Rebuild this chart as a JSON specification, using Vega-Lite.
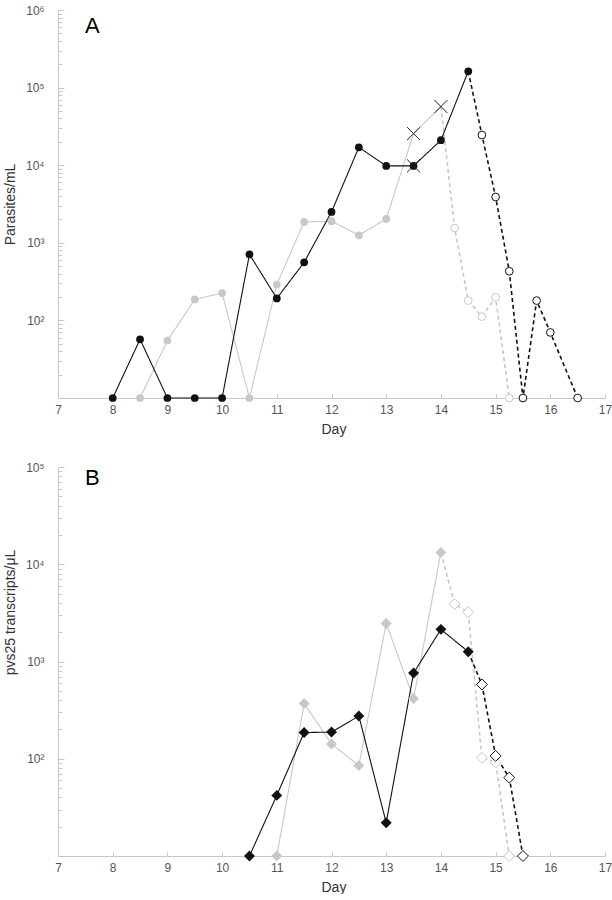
{
  "$schema": "https://vega.github.io/schema/vega-lite/v6.json",
  "autosize": {"type": "pad"},
  "padding": {"left": 3, "top": 4, "right": 0, "bottom": 0},
  "background": "white",
  "spacing": 69,
  "bounds": "flush",
  "config": {
    "view": {"stroke": null},
    "font": "Liberation Sans",
    "axis": {
      "domainColor": "#c8c8c8",
      "tickColor": "#c8c8c8",
      "labelColor": "#555555",
      "labelFont": "Liberation Sans",
      "labelFontSize": 12,
      "titleFont": "Liberation Sans",
      "titleFontSize": 14,
      "titleFontWeight": "normal",
      "titleColor": "#333333",
      "grid": false,
      "labelOverlap": false,
      "labelBound": false,
      "labelFlush": false
    }
  },
  "datasets": {
    "pts": [
      {"panel": "A", "series": "gray", "seg": "solid", "marker": "filled", "day": 8.5, "value": 10},
      {"panel": "A", "series": "gray", "seg": "solid", "marker": "filled", "day": 9, "value": 55},
      {"panel": "A", "series": "gray", "seg": "solid", "marker": "filled", "day": 9.5, "value": 186},
      {"panel": "A", "series": "gray", "seg": "solid", "marker": "filled", "day": 10, "value": 225},
      {"panel": "A", "series": "gray", "seg": "solid", "marker": "filled", "day": 10.5, "value": 10},
      {"panel": "A", "series": "gray", "seg": "solid", "marker": "filled", "day": 11, "value": 290},
      {"panel": "A", "series": "gray", "seg": "solid", "marker": "filled", "day": 11.5, "value": 1860},
      {"panel": "A", "series": "gray", "seg": "solid", "marker": "filled", "day": 12, "value": 1900},
      {"panel": "A", "series": "gray", "seg": "solid", "marker": "filled", "day": 12.5, "value": 1250},
      {"panel": "A", "series": "gray", "seg": "solid", "marker": "filled", "day": 13, "value": 2030},
      {"panel": "A", "series": "gray", "seg": "solid", "marker": "x", "day": 13.5, "value": 25500},
      {"panel": "A", "series": "gray", "seg": "solid", "marker": "x", "day": 14, "value": 57000},
      {"panel": "A", "series": "gray", "seg": "dashed", "marker": "none", "day": 14, "value": 57000},
      {"panel": "A", "series": "gray", "seg": "dashed", "marker": "open", "day": 14.25, "value": 1550},
      {"panel": "A", "series": "gray", "seg": "dashed", "marker": "open", "day": 14.5, "value": 180},
      {"panel": "A", "series": "gray", "seg": "dashed", "marker": "open", "day": 14.75, "value": 112},
      {"panel": "A", "series": "gray", "seg": "dashed", "marker": "open", "day": 15, "value": 198},
      {"panel": "A", "series": "gray", "seg": "dashed", "marker": "open", "day": 15.25, "value": 10},
      {"panel": "A", "series": "black", "seg": "solid", "marker": "filled", "day": 8, "value": 10},
      {"panel": "A", "series": "black", "seg": "solid", "marker": "filled", "day": 8.5, "value": 57},
      {"panel": "A", "series": "black", "seg": "solid", "marker": "filled", "day": 9, "value": 10},
      {"panel": "A", "series": "black", "seg": "solid", "marker": "filled", "day": 9.5, "value": 10},
      {"panel": "A", "series": "black", "seg": "solid", "marker": "filled", "day": 10, "value": 10},
      {"panel": "A", "series": "black", "seg": "solid", "marker": "filled", "day": 10.5, "value": 710},
      {"panel": "A", "series": "black", "seg": "solid", "marker": "filled", "day": 11, "value": 192},
      {"panel": "A", "series": "black", "seg": "solid", "marker": "filled", "day": 11.5, "value": 560},
      {"panel": "A", "series": "black", "seg": "solid", "marker": "filled", "day": 12, "value": 2500},
      {"panel": "A", "series": "black", "seg": "solid", "marker": "filled", "day": 12.5, "value": 17000},
      {"panel": "A", "series": "black", "seg": "solid", "marker": "filled", "day": 13, "value": 9800},
      {"panel": "A", "series": "black", "seg": "solid", "marker": "filledx", "day": 13.5, "value": 9800},
      {"panel": "A", "series": "black", "seg": "solid", "marker": "filled", "day": 14, "value": 21000},
      {"panel": "A", "series": "black", "seg": "solid", "marker": "filled", "day": 14.5, "value": 162000},
      {"panel": "A", "series": "black", "seg": "dashed", "marker": "none", "day": 14.5, "value": 162000},
      {"panel": "A", "series": "black", "seg": "dashed", "marker": "open", "day": 14.75, "value": 24500},
      {"panel": "A", "series": "black", "seg": "dashed", "marker": "open", "day": 15, "value": 3900},
      {"panel": "A", "series": "black", "seg": "dashed", "marker": "open", "day": 15.25, "value": 430},
      {"panel": "A", "series": "black", "seg": "dashed", "marker": "open", "day": 15.5, "value": 10},
      {"panel": "A", "series": "black", "seg": "dashed", "marker": "open", "day": 15.75, "value": 180},
      {"panel": "A", "series": "black", "seg": "dashed", "marker": "open", "day": 16, "value": 70},
      {"panel": "A", "series": "black", "seg": "dashed", "marker": "open", "day": 16.5, "value": 10},
      {"panel": "B", "series": "gray", "seg": "solid", "marker": "filled", "day": 11, "value": 10},
      {"panel": "B", "series": "gray", "seg": "solid", "marker": "filled", "day": 11.5, "value": 370},
      {"panel": "B", "series": "gray", "seg": "solid", "marker": "filled", "day": 12, "value": 142},
      {"panel": "B", "series": "gray", "seg": "solid", "marker": "filled", "day": 12.5, "value": 85},
      {"panel": "B", "series": "gray", "seg": "solid", "marker": "filled", "day": 13, "value": 2460},
      {"panel": "B", "series": "gray", "seg": "solid", "marker": "filled", "day": 13.5, "value": 415},
      {"panel": "B", "series": "gray", "seg": "solid", "marker": "filled", "day": 14, "value": 13200},
      {"panel": "B", "series": "gray", "seg": "dashed", "marker": "none", "day": 14, "value": 13200},
      {"panel": "B", "series": "gray", "seg": "dashed", "marker": "open", "day": 14.25, "value": 3900},
      {"panel": "B", "series": "gray", "seg": "dashed", "marker": "open", "day": 14.5, "value": 3200},
      {"panel": "B", "series": "gray", "seg": "dashed", "marker": "open", "day": 14.75, "value": 102},
      {"panel": "B", "series": "gray", "seg": "dashed", "marker": "open", "day": 15, "value": 92},
      {"panel": "B", "series": "gray", "seg": "dashed", "marker": "open", "day": 15.25, "value": 10},
      {"panel": "B", "series": "black", "seg": "solid", "marker": "filled", "day": 10.5, "value": 10},
      {"panel": "B", "series": "black", "seg": "solid", "marker": "filled", "day": 11, "value": 42},
      {"panel": "B", "series": "black", "seg": "solid", "marker": "filled", "day": 11.5, "value": 186},
      {"panel": "B", "series": "black", "seg": "solid", "marker": "filled", "day": 12, "value": 188},
      {"panel": "B", "series": "black", "seg": "solid", "marker": "filled", "day": 12.5, "value": 275},
      {"panel": "B", "series": "black", "seg": "solid", "marker": "filled", "day": 13, "value": 22},
      {"panel": "B", "series": "black", "seg": "solid", "marker": "filled", "day": 13.5, "value": 760},
      {"panel": "B", "series": "black", "seg": "solid", "marker": "filled", "day": 14, "value": 2140},
      {"panel": "B", "series": "black", "seg": "solid", "marker": "filled", "day": 14.5, "value": 1260},
      {"panel": "B", "series": "black", "seg": "dashed", "marker": "none", "day": 14.5, "value": 1260},
      {"panel": "B", "series": "black", "seg": "dashed", "marker": "open", "day": 14.75, "value": 580},
      {"panel": "B", "series": "black", "seg": "dashed", "marker": "open", "day": 15, "value": 107},
      {"panel": "B", "series": "black", "seg": "dashed", "marker": "open", "day": 15.25, "value": 64},
      {"panel": "B", "series": "black", "seg": "dashed", "marker": "open", "day": 15.5, "value": 10}
    ]
  },
  "vconcat": [
    {
      "width": 547,
      "height": 388,
      "layer": [
        {
          "data": {"name": "pts"},
          "transform": [{"filter": "datum.panel === 'A'"}],
          "mark": {"type": "line", "strokeCap": "butt"},
          "encoding": {
            "x": {
              "field": "day", "type": "quantitative",
              "scale": {"domain": [7, 17], "nice": false, "zero": false},
              "axis": {
                "title": "Day",
                "values": [7,7.25,7.5,7.75,8,8.25,8.5,8.75,9,9.25,9.5,9.75,10,10.25,10.5,10.75,11,11.25,11.5,11.75,12,12.25,12.5,12.75,13,13.25,13.5,13.75,14,14.25,14.5,14.75,15,15.25,15.5,15.75,16,16.25,16.5,16.75,17],
                "labelExpr": "datum.value % 1 === 0 ? format(datum.value, 'd') : ''",
                "tickSize": -4,
                "labelPadding": 10,
                "titlePadding": 7,
                "titleAnchor": "start",
                "titleX": 263
              }
            },
            "y": {
              "field": "value", "type": "quantitative",
              "scale": {"type": "log", "domain": [10, 1000000], "nice": false},
              "axis": {
                "title": "Parasites/mL",
                "values": [10,20,30,40,50,60,70,80,90,100,200,300,400,500,600,700,800,900,1000,2000,3000,4000,5000,6000,7000,8000,9000,10000,20000,30000,40000,50000,60000,70000,80000,90000,100000,200000,300000,400000,500000,600000,700000,800000,900000,1000000],
                "labelExpr": "abs(log(datum.value)/LN10 - round(log(datum.value)/LN10)) < 0.001 && datum.value > 11 ? '10' + ['⁰','¹','²','³','⁴','⁵','⁶'][round(log(datum.value)/LN10)] : ''",
                "tickSize": {"condition": {"test": "abs(log(datum.value)/LN10 - round(log(datum.value)/LN10)) < 0.001", "value": -6}, "value": -4},
                "labelPadding": 20,
                "minExtent": 34,
                "maxExtent": 34,
                "titlePadding": 7
              }
            },
            "color": {"field": "series", "type": "nominal", "scale": {"domain": ["gray", "black"], "range": ["#c8c8c8", "#111111"]}, "legend": null},
            "strokeDash": {"field": "seg", "type": "nominal", "scale": {"domain": ["solid", "dashed"], "range": [[1, 0], [4, 3]]}, "legend": null},
            "strokeWidth": {"field": "seg", "type": "nominal", "scale": {"domain": ["solid", "dashed"], "range": [1.1, 1.6]}, "legend": null}
          }
        },
        {
          "data": {"name": "pts"},
          "transform": [{"filter": "datum.panel === 'A'"}, {"filter": {"field": "marker", "oneOf": ["filled", "filledx"]}}],
          "mark": {"type": "point", "shape": "circle", "filled": true, "size": 60, "opacity": 1},
          "encoding": {
            "x": {"field": "day", "type": "quantitative"},
            "y": {"field": "value", "type": "quantitative"},
            "color": {"field": "series", "type": "nominal", "legend": null}
          }
        },
        {
          "data": {"name": "pts"},
          "transform": [{"filter": "datum.panel === 'A'"}, {"filter": {"field": "marker", "equal": "open"}}],
          "mark": {"type": "point", "shape": "circle", "filled": false, "fill": "white", "fillOpacity": 1, "strokeWidth": 1, "size": 60, "opacity": 1},
          "encoding": {
            "x": {"field": "day", "type": "quantitative"},
            "y": {"field": "value", "type": "quantitative"},
            "color": {"field": "series", "type": "nominal", "legend": null}
          }
        },
        {
          "data": {"name": "pts"},
          "transform": [{"filter": "datum.panel === 'A'"}, {"filter": {"field": "marker", "oneOf": ["x", "filledx"]}}],
          "mark": {"type": "point", "shape": "M-1,-1L1,1M1,-1L-1,1", "filled": false, "size": 170, "color": "#222222", "strokeWidth": 1, "opacity": 1},
          "encoding": {
            "x": {"field": "day", "type": "quantitative"},
            "y": {"field": "value", "type": "quantitative"}
          }
        },
        {
          "data": {"values": [{"label": "A"}]},
          "mark": {"type": "text", "align": "center", "baseline": "alphabetic", "fontSize": 22, "font": "Liberation Sans", "fill": "#000000"},
          "encoding": {
            "x": {"datum": 7.63},
            "y": {"datum": 500000},
            "text": {"field": "label"}
          }
        }
      ]
    },
    {
      "width": 547,
      "height": 389,
      "layer": [
        {
          "data": {"name": "pts"},
          "transform": [{"filter": "datum.panel === 'B'"}],
          "mark": {"type": "line", "strokeCap": "butt"},
          "encoding": {
            "x": {
              "field": "day", "type": "quantitative",
              "scale": {"domain": [7, 17], "nice": false, "zero": false},
              "axis": {
                "title": "Day",
                "values": [7,7.25,7.5,7.75,8,8.25,8.5,8.75,9,9.25,9.5,9.75,10,10.25,10.5,10.75,11,11.25,11.5,11.75,12,12.25,12.5,12.75,13,13.25,13.5,13.75,14,14.25,14.5,14.75,15,15.25,15.5,15.75,16,16.25,16.5,16.75,17],
                "labelExpr": "datum.value % 1 === 0 ? format(datum.value, 'd') : ''",
                "tickSize": -4,
                "labelPadding": 10,
                "titlePadding": 7,
                "titleAnchor": "start",
                "titleX": 263
              }
            },
            "y": {
              "field": "value", "type": "quantitative",
              "scale": {"type": "log", "domain": [10, 100000], "nice": false},
              "axis": {
                "title": "pvs25 transcripts/μL",
                "titleAnchor": "middle",
                "titleY": 145,
                "values": [10,20,30,40,50,60,70,80,90,100,200,300,400,500,600,700,800,900,1000,2000,3000,4000,5000,6000,7000,8000,9000,10000,20000,30000,40000,50000,60000,70000,80000,90000,100000],
                "labelExpr": "abs(log(datum.value)/LN10 - round(log(datum.value)/LN10)) < 0.001 && datum.value > 11 ? '10' + ['⁰','¹','²','³','⁴','⁵','⁶'][round(log(datum.value)/LN10)] : ''",
                "tickSize": {"condition": {"test": "abs(log(datum.value)/LN10 - round(log(datum.value)/LN10)) < 0.001", "value": -6}, "value": -4},
                "labelPadding": 20,
                "minExtent": 34,
                "maxExtent": 34,
                "titlePadding": 7
              }
            },
            "color": {"field": "series", "type": "nominal", "scale": {"domain": ["gray", "black"], "range": ["#c8c8c8", "#111111"]}, "legend": null},
            "strokeDash": {"field": "seg", "type": "nominal", "scale": {"domain": ["solid", "dashed"], "range": [[1, 0], [4, 3]]}, "legend": null},
            "strokeWidth": {"field": "seg", "type": "nominal", "scale": {"domain": ["solid", "dashed"], "range": [1.1, 1.6]}, "legend": null}
          }
        },
        {
          "data": {"name": "pts"},
          "transform": [{"filter": "datum.panel === 'B'"}, {"filter": {"field": "marker", "equal": "filled"}}],
          "mark": {"type": "point", "shape": "diamond", "filled": true, "size": 120, "opacity": 1},
          "encoding": {
            "x": {"field": "day", "type": "quantitative"},
            "y": {"field": "value", "type": "quantitative"},
            "color": {"field": "series", "type": "nominal", "legend": null}
          }
        },
        {
          "data": {"name": "pts"},
          "transform": [{"filter": "datum.panel === 'B'"}, {"filter": {"field": "marker", "equal": "open"}}],
          "mark": {"type": "point", "shape": "diamond", "filled": false, "fill": "white", "fillOpacity": 1, "strokeWidth": 1, "size": 120, "opacity": 1},
          "encoding": {
            "x": {"field": "day", "type": "quantitative"},
            "y": {"field": "value", "type": "quantitative"},
            "color": {"field": "series", "type": "nominal", "legend": null}
          }
        },
        {
          "data": {"values": [{"label": "B"}]},
          "mark": {"type": "text", "align": "center", "baseline": "alphabetic", "fontSize": 22, "font": "Liberation Sans", "fill": "#000000"},
          "encoding": {
            "x": {"datum": 7.63},
            "y": {"datum": 66000},
            "text": {"field": "label"}
          }
        }
      ]
    }
  ]
}
